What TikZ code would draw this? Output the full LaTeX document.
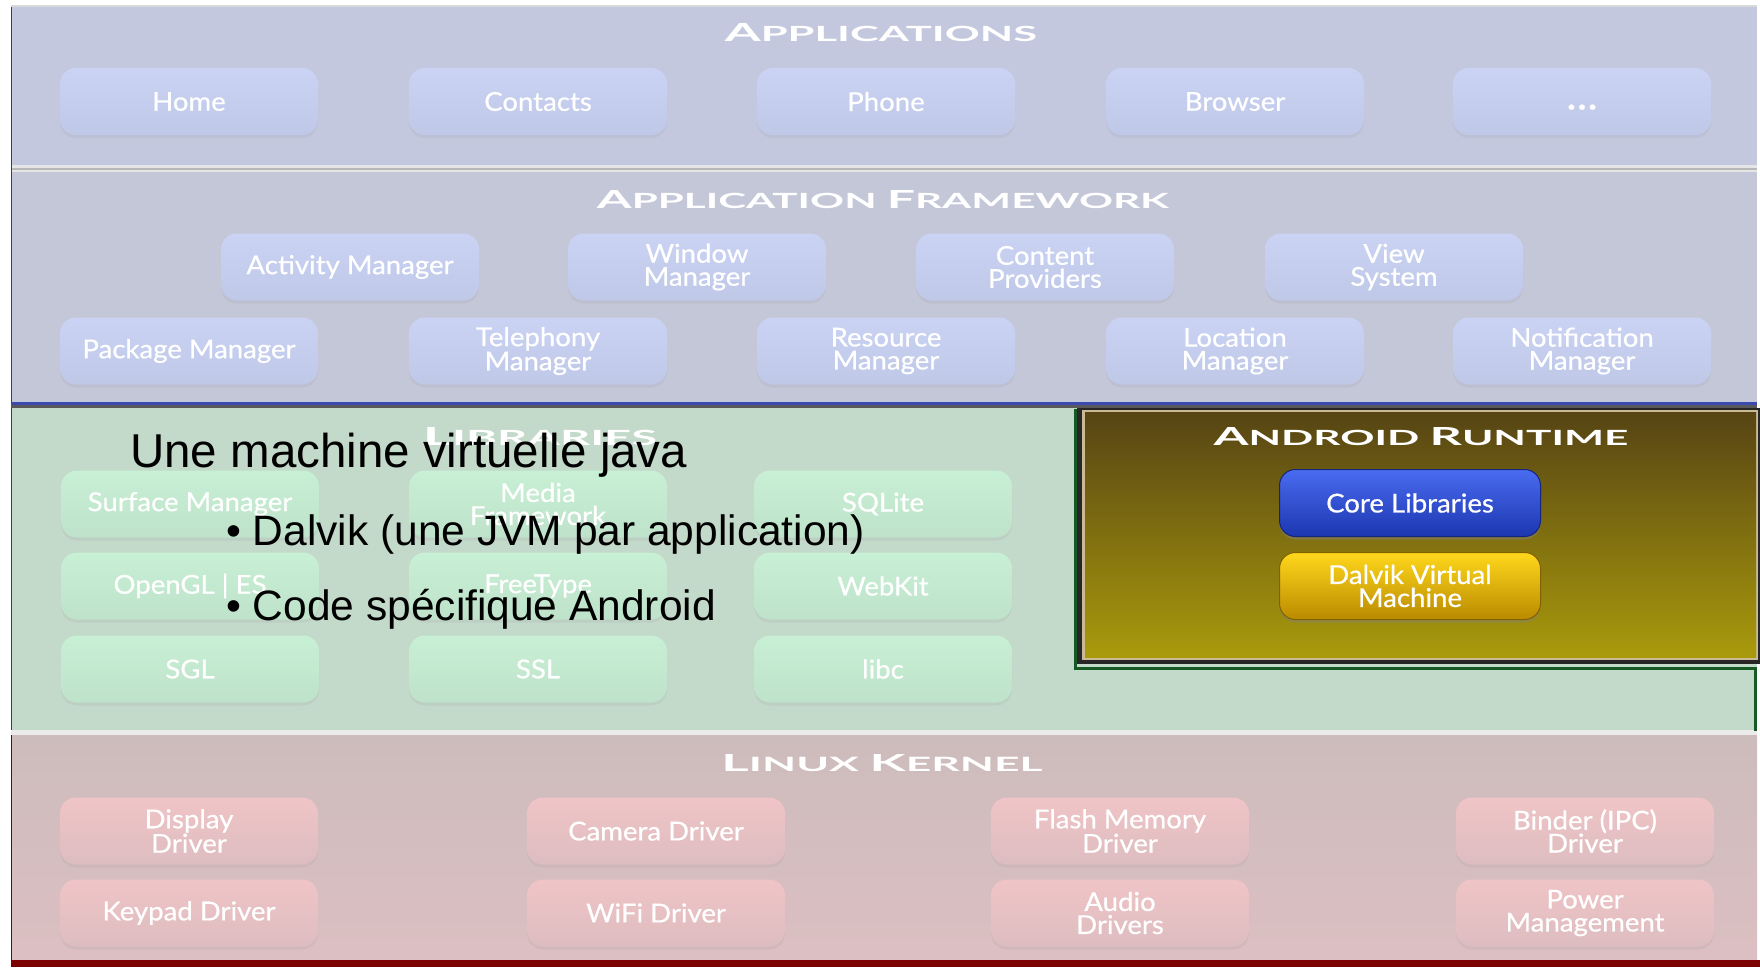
\documentclass[tikz,border=0pt]{standalone}
\usepackage{fontspec}
\usetikzlibrary{shadows}
\newfontfamily\boxfont[FakeStretch=1.06,FakeBold=0.6]{Lato}
\newfontfamily\ttlfont{Lato}
\newfontfamily\ovfont{Liberation Sans}
\definecolor{appband}{HTML}{C3C8DE}
\definecolor{fwband}{HTML}{C4C7D8}
\definecolor{libband}{HTML}{C3D9CA}
\definecolor{kerntop}{HTML}{CDBCBC}
\definecolor{kernbot}{HTML}{DCBFC2}
\definecolor{appboxtop}{HTML}{CAD3F3}
\definecolor{appboxbot}{HTML}{C0C8E8}
\definecolor{libboxtop}{HTML}{C8F0D5}
\definecolor{libboxbot}{HTML}{BEE2CA}
\definecolor{kerboxtop}{HTML}{F0C4C6}
\definecolor{kerboxbot}{HTML}{DDBDC0}
\definecolor{rtgreen}{HTML}{155A25}
\definecolor{rttop}{HTML}{564414}
\definecolor{rtbot}{HTML}{A99A0C}
\definecolor{rttan}{HTML}{CBB995}
\definecolor{coretop}{HTML}{4A6CF0}
\definecolor{corebot}{HTML}{1C36B0}
\definecolor{dvtop}{HTML}{FFD81C}
\definecolor{dvbot}{HTML}{BA8A00}
\definecolor{darkred}{HTML}{7D0000}
\definecolor{edgeblue}{HTML}{3A4AB0}
\newcommand{\BL}[1]{{\fontsize{25}{25}\selectfont #1}}
\newcommand{\ttl}[3]{\resizebox{#1pt}{#2pt}{\ttlfont\bfseries\fontsize{21}{21}\selectfont #3}}
\tikzset{
  box/.style={rounded corners=16pt, minimum width=258pt, minimum height=67pt,
    inner sep=0pt, text=white, align=center,
    font=\boxfont\fontsize{26}{23}\selectfont,
    drop shadow={opacity=0.10, shadow xshift=0pt, shadow yshift=-3pt}},
  appbox/.style={box, top color=appboxtop, bottom color=appboxbot},
  libbox/.style={box, top color=libboxtop, bottom color=libboxbot},
  kerbox/.style={box, top color=kerboxtop, bottom color=kerboxbot},
  title/.style={inner sep=0pt, text=white},
  ovtext/.style={anchor=base west, inner sep=0pt, text=black}
}
\begin{document}
\begin{tikzpicture}[x=1pt,y=-1pt]
\useasboundingbox (0,0) rectangle (1760,967);
\fill[white] (0,0) rectangle (1760,967);
% ---------- bands ----------
\fill[appband] (11,7) rectangle (1757,166);
\draw[line width=2pt, color=black!15] (11,6) -- (1757,6);
\fill[black!10] (11,165) rectangle (1757,172);
\draw[line width=1.2pt, color=black!28] (11,169) -- (1757,169);
\fill[fwband] (11,172) rectangle (1757,402);
\draw[line width=1.5pt, color=edgeblue!80!black] (11.5,7) -- (11.5,402);
\fill[edgeblue] (11,402) rectangle (1757,404.5);
\fill[black!65] (11,404.5) rectangle (1757,408);
\fill[libband] (11,408) rectangle (1757,730);
\fill[black!8] (11,730) rectangle (1757,735);
\shade[top color=kerntop, bottom color=kernbot] (11,735) rectangle (1757,960);
\draw[line width=1.5pt, color=darkred] (11.5,735) -- (11.5,960);
\fill[darkred] (11,960) rectangle (1760,967);
\draw[line width=1.5pt, color=rtgreen] (11.5,408) -- (11.5,730);
% ---------- android runtime frame ----------
\draw[line width=3pt, color=rtgreen] (1075,409) -- (1075,668) -- (1755,668) -- (1755,731);
\fill[black!85] (1077,408) rectangle (1760,664);
\fill[rttan] (1082,410) rectangle (1758,660);
\shade[top color=rttop, bottom color=rtbot] (1085,412) rectangle (1756,657);
% ---------- titles ----------
\node[title] (tapps) at (881,33) {\ttl{312}{18}{\BL{A}PPLICATIONS}};
\node[title] (tfw) at (883,200) {\ttl{572}{18}{\BL{A}PPLICATION \BL{F}RAMEWORK}};
\node[title] (tlib) at (540,437) {\ttl{234}{18}{\BL{L}IBRARIES}};
\node[title] (trt) at (1421,437) {\ttl{415}{18}{\BL{A}NDROID \BL{R}UNTIME}};
\node[title] (tkern) at (882,763) {\ttl{321}{17}{\BL{L}INUX \BL{K}ERNEL}};
% ---------- applications ----------
\node[appbox] (home) at (189,101.5) {Home};
\node[appbox] (contacts) at (538,101.5) {Contacts};
\node[appbox] (phone) at (886,101.5) {Phone};
\node[appbox] (browser) at (1235,101.5) {Browser};
\node[appbox, text height=16pt, text depth=0pt] (more) at (1582,101.5) {{\fontsize{34}{34}\selectfont\bfseries .\kern2pt.\kern2pt.}};
% ---------- framework ----------
\node[appbox] (activity) at (350,267) {Activity Manager};
\node[appbox] (window) at (697,267) {Window\\Manager};
\node[appbox] (content) at (1045,267) {Content\\Providers};
\node[appbox] (view) at (1394,267) {View\\System};
\node[appbox] (package) at (189,351) {Package Manager};
\node[appbox] (telephony) at (538,351) {Telephony\\Manager};
\node[appbox] (resource) at (886,351) {Resource\\Manager};
\node[appbox] (location) at (1235,351) {Location\\Manager};
\node[appbox] (notification) at (1582,351) {Notification\\Manager};
% ---------- libraries ----------
\node[libbox] (surface) at (190,504) {Surface Manager};
\node[libbox] (media) at (538,504) {Media\\Framework};
\node[libbox] (sqlite) at (883,504) {SQLite};
\node[libbox] (opengl) at (190,586) {OpenGL | ES};
\node[libbox] (freetype) at (538,586) {FreeType};
\node[libbox] (webkit) at (883,586) {WebKit};
\node[libbox] (sgl) at (190,669) {SGL};
\node[libbox] (ssl) at (538,669) {SSL};
\node[libbox] (libc) at (883,669) {libc};
% ---------- runtime ----------
\node[box, minimum width=261pt, top color=coretop, bottom color=corebot,
      draw=corebot!70!black, line width=1pt,
      drop shadow={opacity=0.35, shadow xshift=0pt, shadow yshift=-3pt}] (core) at (1410,503) {Core Libraries};
\node[box, minimum width=261pt, top color=dvtop, bottom color=dvbot,
      draw=dvbot!70!black, line width=1pt,
      drop shadow={opacity=0.35, shadow xshift=0pt, shadow yshift=-3pt}] (dalvik) at (1410,586) {Dalvik Virtual\\Machine};
% ---------- kernel ----------
\node[kerbox] (display) at (189,831) {Display\\Driver};
\node[kerbox] (camera) at (656,831) {Camera Driver};
\node[kerbox] (flash) at (1120,831) {Flash Memory\\Driver};
\node[kerbox] (binder) at (1585,831) {Binder (IPC)\\Driver};
\node[kerbox] (keypad) at (189,913) {Keypad Driver};
\node[kerbox] (wifi) at (656,913) {WiFi Driver};
\node[kerbox] (audio) at (1120,913) {Audio\\Drivers};
\node[kerbox] (power) at (1585,913) {Power\\Management};
% ---------- overlay text ----------
\node[ovtext, font=\ovfont\fontsize{47.5}{57}\selectfont] (ov1) at (130,467) {Une machine virtuelle java};
\node[ovtext, font=\ovfont\fontsize{42.5}{51}\selectfont] (ov2) at (226,545) {• Dalvik (une JVM par application)};
\node[ovtext, font=\ovfont\fontsize{42.5}{51}\selectfont] (ov3) at (226,620) {• Code spécifique Android};
\end{tikzpicture}
\end{document}
